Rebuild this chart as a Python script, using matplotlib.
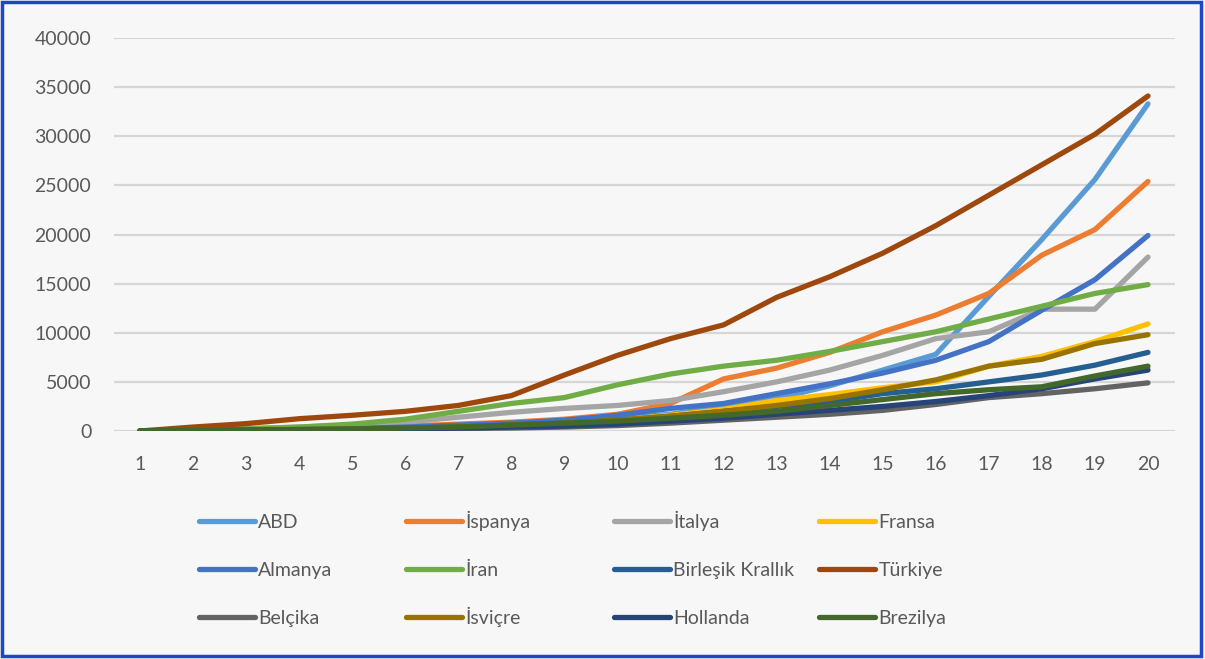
import matplotlib.pyplot as plt
from matplotlib.patches import Rectangle

days = list(range(1, 21))

ABD = [0, 100, 150, 200, 300, 400, 500, 700, 1000, 1300, 1700, 2500, 3300, 4600, 6200, 7800, 13700, 19500, 25600, 33300]
Ispanya = [0, 100, 150, 250, 350, 500, 700, 900, 1200, 1700, 2800, 5300, 6400, 8000, 10100, 11800, 14000, 17900, 20500, 25400]
Italya = [0, 150, 250, 400, 600, 900, 1400, 1900, 2300, 2600, 3100, 4000, 5000, 6200, 7700, 9400, 10100, 12400, 12400, 17700]
Fransa = [0, 50, 100, 150, 200, 300, 400, 600, 800, 1100, 1600, 2200, 3100, 3700, 4400, 5000, 6600, 7600, 9100, 10900]
Almanya = [0, 50, 100, 150, 250, 400, 600, 800, 1100, 1600, 2300, 2800, 3800, 4800, 5900, 7200, 9100, 12300, 15400, 19900]
Iran = [0, 100, 200, 400, 700, 1200, 2000, 2800, 3400, 4700, 5800, 6600, 7200, 8100, 9100, 10100, 11400, 12700, 14000, 14900]
Birlesik = [0, 50, 100, 150, 200, 300, 400, 600, 800, 1100, 1500, 2000, 2500, 3000, 3800, 4300, 5000, 5700, 6700, 8000]
Turkiye = [0, 400, 750, 1250, 1600, 2000, 2600, 3600, 5700, 7700, 9400, 10800, 13600, 15700, 18100, 20900, 24000, 27100, 30200, 34100]
Belcika = [0, 30, 60, 100, 150, 200, 250, 300, 400, 550, 800, 1100, 1400, 1700, 2100, 2700, 3400, 3800, 4300, 4900]
Isvicre = [0, 50, 100, 150, 200, 300, 400, 600, 800, 1100, 1500, 2000, 2600, 3300, 4200, 5200, 6600, 7300, 8900, 9800]
Hollanda = [0, 30, 60, 100, 150, 200, 300, 400, 500, 700, 1000, 1300, 1700, 2100, 2500, 3000, 3600, 4300, 5300, 6200]
Brezilya = [0, 50, 100, 150, 200, 300, 400, 600, 800, 1000, 1300, 1600, 2000, 2600, 3200, 3800, 4200, 4500, 5600, 6600]

series = [
    ("ABD", ABD, "#5B9BD5"),
    ("İspanya", Ispanya, "#ED7D31"),
    ("İtalya", Italya, "#A5A5A5"),
    ("Fransa", Fransa, "#FFC000"),
    ("Almanya", Almanya, "#4472C4"),
    ("İran", Iran, "#70AD47"),
    ("Birleşik Krallık", Birlesik, "#255E91"),
    ("Türkiye", Turkiye, "#9E480E"),
    ("Belçika", Belcika, "#636363"),
    ("İsviçre", Isvicre, "#997300"),
    ("Hollanda", Hollanda, "#264478"),
    ("Brezilya", Brezilya, "#43682B"),
]

plt.rcParams["font.family"] = ["Lato", "DejaVu Sans"]
text_color = "#595959"
bg = "#F7F7F7"

fig = plt.figure(figsize=(12.05, 6.59), dpi=100, facecolor=bg)
ax = fig.add_axes([0.0942, 0.346, 0.8805, 0.5963])
ax.set_facecolor(bg)

lines = []
for name, vals, color in series:
    (ln,) = ax.plot(days, vals, color=color, lw=3.8, solid_capstyle="round",
                    solid_joinstyle="round", label=name)
    lines.append(ln)

ax.set_xlim(0.5, 20.5)
ax.set_ylim(0, 40000)
ax.set_xticks(days)
ax.set_yticks(range(0, 40001, 5000))
ax.grid(axis="y", color="#D6D6D6", lw=1.6)
ax.set_axisbelow(True)
for s in ax.spines.values():
    s.set_visible(False)
ax.tick_params(axis="both", length=0, labelsize=14, labelcolor=text_color)
ax.tick_params(axis="x", pad=18)
ax.tick_params(axis="y", pad=16)

# legend: 3 rows x 4 columns, filled row by row, one entry per legend box
# anchored at the bottom so that labels with dotted capitals keep the same baseline
col_x = [199, 406, 614, 819]
row_y = [521, 569, 617]
for i, ln in enumerate(lines):
    r, c = divmod(i, 4)
    fig.legend(handles=[ln], labels=[ln.get_label()],
               loc="lower left", bbox_to_anchor=(col_x[c] / 1205, 1 - (row_y[r] + 10) / 659),
               frameon=False, fontsize=14, labelcolor=text_color,
               handlelength=2.9, handletextpad=0.15,
               borderpad=0, borderaxespad=0)

fig.patches.append(Rectangle((0.002, 0.004), 0.995, 0.993, transform=fig.transFigure,
                             fill=False, edgecolor="#1F45C8", lw=2.5))

fig.savefig("out.png", dpi=100, facecolor=bg)
